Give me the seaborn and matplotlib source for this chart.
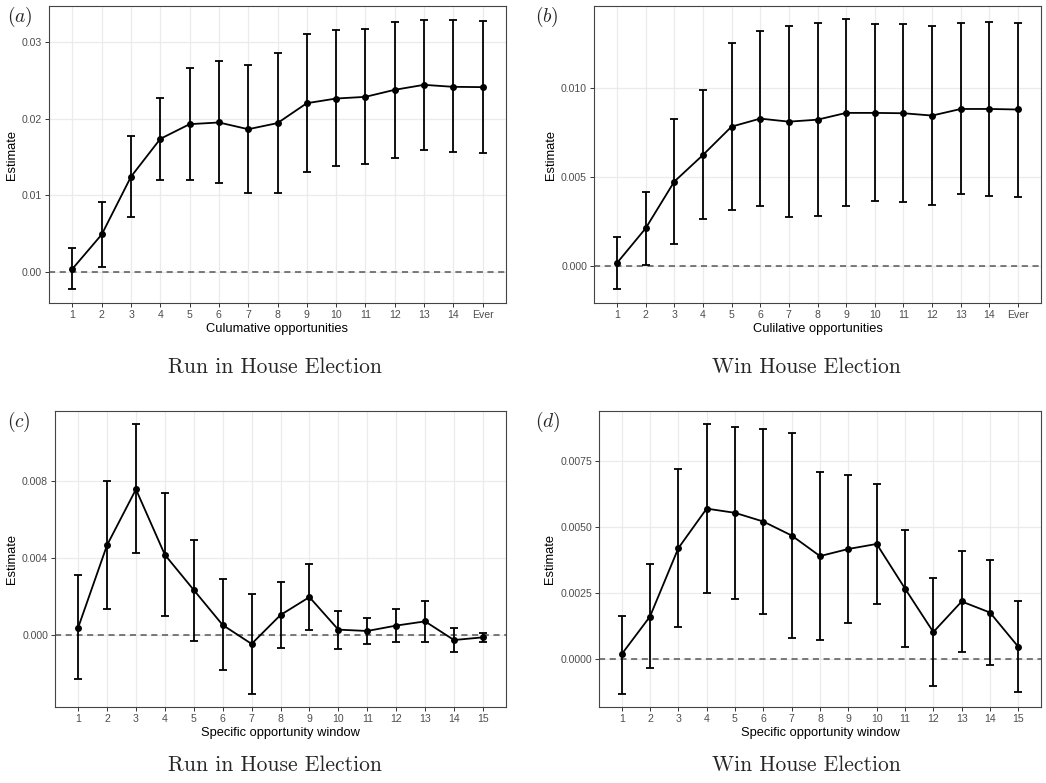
import numpy as np
import pandas as pd
import matplotlib
matplotlib.use("Agg")
import matplotlib.pyplot as plt
import seaborn as sns

# ---- data ----
cum_labels = [str(i) for i in range(1, 15)] + ["Ever"]
win_labels = [str(i) for i in range(1, 16)]

# (a) Run in House Election, cumulative opportunities
a_est = [0.00035, 0.00484, 0.0124, 0.01734, 0.01926, 0.01948, 0.0186, 0.0194,
         0.0220, 0.02261, 0.02283, 0.02375, 0.0244, 0.02414, 0.0241]
a_lo = [-0.00235, 0.00057, 0.00719, 0.0120, 0.0120, 0.01155, 0.01024, 0.01024,
        0.0130, 0.01373, 0.01403, 0.0149, 0.0159, 0.01556, 0.01547]
a_hi = [0.0031, 0.00915, 0.01765, 0.0227, 0.02654, 0.0275, 0.0270, 0.02854,
        0.0310, 0.03155, 0.03168, 0.03264, 0.03294, 0.03281, 0.03277]

# (b) Win House Election, cumulative opportunities
b_est = [0.00019, 0.00213, 0.00475, 0.00624, 0.00783, 0.00828, 0.00811, 0.00822,
         0.0086, 0.0086, 0.00858, 0.00845, 0.00882, 0.00882, 0.00879]
b_lo = [-0.00129, 0.00006, 0.00125, 0.00264, 0.00316, 0.00338, 0.00277, 0.0028,
        0.00338, 0.00368, 0.00361, 0.00346, 0.00407, 0.00396, 0.00389]
b_hi = [0.00166, 0.00419, 0.00826, 0.00987, 0.0125, 0.01316, 0.01348, 0.01363,
        0.01383, 0.01357, 0.01359, 0.01344, 0.01361, 0.01368, 0.01366]

# (c) Run in House Election, specific window
c_est = [0.00036, 0.00465, 0.00755, 0.00415, 0.00232, 0.0005, -0.00048, 0.00102,
         0.00195, 0.00026, 0.00019, 0.00047, 0.00069, -0.00028, -0.00014]
c_lo = [-0.00233, 0.00135, 0.00422, 0.00095, -0.00031, -0.00183, -0.00306, -0.00067,
        0.00026, -0.00074, -0.0005, -0.0004, -0.00038, -0.00088, -0.00036]
c_hi = [0.00309, 0.00797, 0.01092, 0.00736, 0.00492, 0.00287, 0.00213, 0.00271,
        0.00366, 0.00124, 0.00085, 0.00133, 0.00176, 0.00035, 0.0001]

# (d) Win House Election, specific window
d_est = [0.00019, 0.00162, 0.00421, 0.00571, 0.00555, 0.00522, 0.00469, 0.00391,
         0.00418, 0.00437, 0.00268, 0.00103, 0.00219, 0.00177, 0.00047]
d_lo = [-0.0013, -0.00033, 0.00121, 0.00253, 0.00229, 0.00172, 0.00079, 0.00074,
        0.00138, 0.0021, 0.00045, -0.00102, 0.00028, -0.0002, -0.00126]
d_hi = [0.00165, 0.0036, 0.00722, 0.0089, 0.00881, 0.00871, 0.00859, 0.0071,
        0.00697, 0.00664, 0.00491, 0.00308, 0.0041, 0.00375, 0.00219]

a_yticks = [0.0, 0.01, 0.02, 0.03]
b_yticks = [0.0, 0.005, 0.010]
c_yticks = [0.0, 0.004, 0.008]
d_yticks = [0.0, 0.0025, 0.005, 0.0075]

sns.set_theme(style="whitegrid")
plt.rcParams['font.family'] = ['Liberation Sans', 'DejaVu Sans']
plt.rcParams['mathtext.fontset'] = 'cm'

W, H = 1046, 783
fig = plt.figure(figsize=(W / 100, H / 100), dpi=100)


def px_axes(left, top, right, bottom):
    return fig.add_axes([left / W, 1 - bottom / H, (right - left) / W, (bottom - top) / H])


def draw_panel(ax, labels, est, lo, hi, yticks, ydec, xlabel):
    df = pd.DataFrame({"pos": np.arange(len(labels)), "est": est, "lo": lo, "hi": hi})
    ax.axhline(0, color="#555555", lw=1.1, ls=(0, (4, 3)), zorder=1)
    ax.errorbar(df["pos"], df["est"], yerr=[df["est"] - df["lo"], df["hi"] - df["est"]],
                fmt="none", ecolor="black", elinewidth=1.3, capsize=3, capthick=1.3, zorder=2)
    sns.lineplot(data=df, x="pos", y="est", ax=ax, color="black", lw=1.3,
                 marker="o", markersize=5, markeredgewidth=0, zorder=3)

    lo_all, hi_all = min(lo), max(hi)
    pad = 0.05 * (hi_all - lo_all)
    ax.set_ylim(lo_all - pad, hi_all + pad)
    ax.set_xlim(-0.8, len(labels) - 0.2)

    ax.set_xticks(df["pos"])
    ax.set_xticklabels(labels)
    ax.set_yticks(yticks)
    ax.set_yticklabels([f"{v:.{ydec}f}" for v in yticks])

    ax.grid(True, color="#EBEBEB", lw=0.9)
    ax.set_axisbelow(True)
    for s in ax.spines.values():
        s.set_color("#444444")
        s.set_linewidth(0.8)
    ax.tick_params(axis="both", which="major", length=3, width=0.7, color="#333333",
                   labelsize=7.6, labelcolor="#4D4D4D", pad=2, bottom=True, left=True)
    ax.set_xlabel(xlabel, fontsize=9.3, color="black", labelpad=2)
    ax.set_ylabel("Estimate", fontsize=9.3, color="black", labelpad=3)


ax_a = px_axes(49, 6, 506, 303)
ax_b = px_axes(594, 6, 1041, 303)
ax_c = px_axes(55, 411, 506, 707)
ax_d = px_axes(599, 411, 1041, 707)

draw_panel(ax_a, cum_labels, a_est, a_lo, a_hi, a_yticks, 2, "Culumative opportunities")
draw_panel(ax_b, cum_labels, b_est, b_lo, b_hi, b_yticks, 3, "Culilative opportunities")
draw_panel(ax_c, win_labels, c_est, c_lo, c_hi, c_yticks, 3, "Specific opportunity window")
draw_panel(ax_d, win_labels, d_est, d_lo, d_hi, d_yticks, 4, "Specific opportunity window")

# panel letters
for lab, x, y in [("a", 7, 17), ("b", 535, 17), ("c", 7, 422), ("d", 535, 422)]:
    fig.text(x / W, 1 - y / H, f"$({lab})$", fontsize=14, ha="left", va="center")

# subtitles under each panel
for txt, x, y in [("Run in House Election", 275, 367), ("Win House Election", 806, 367),
                  ("Run in House Election", 275, 765), ("Win House Election", 806, 765)]:
    fig.text(x / W, 1 - y / H, txt, fontsize=15.5, family="cmr10", ha="center", va="center")

fig.savefig("out.png", dpi=100)
